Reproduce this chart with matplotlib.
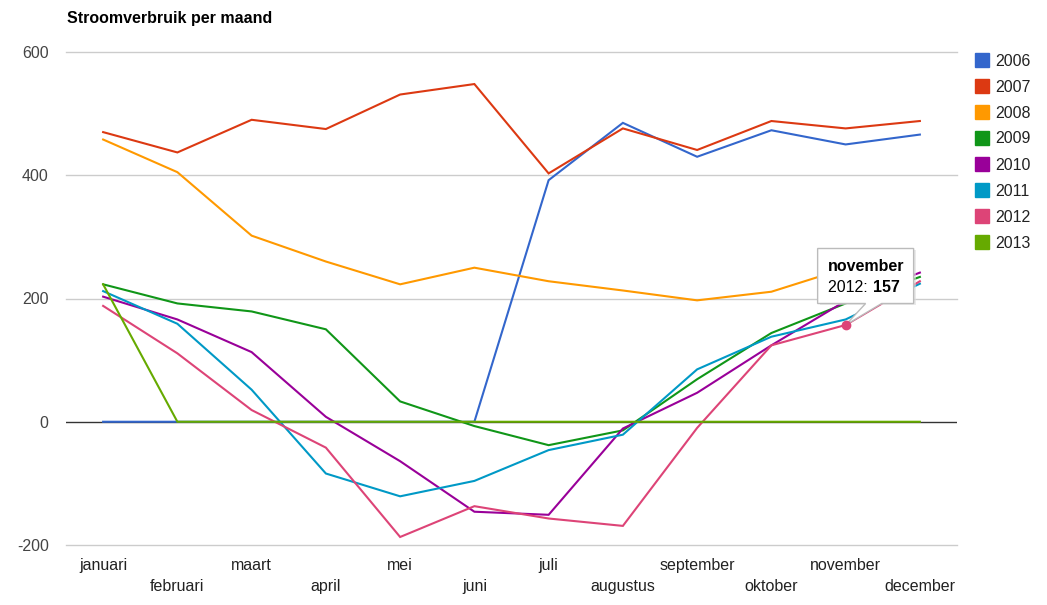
import numpy as np
import matplotlib
matplotlib.use("Agg")
import matplotlib.pyplot as plt
from matplotlib.patches import Rectangle, Polygon
import matplotlib.transforms as mtransforms

plt.rcParams['font.family'] = ['Liberation Sans', 'DejaVu Sans']

months = ['januari', 'februari', 'maart', 'april', 'mei', 'juni', 'juli',
          'augustus', 'september', 'oktober', 'november', 'december']
years = ['2006', '2007', '2008', '2009', '2010', '2011', '2012', '2013']
y2006 = [0, 0, 0, 0, 0, 0, 392, 485, 430, 473, 450, 466]
y2007 = [470, 437, 490, 475, 531, 548, 403, 476, 441, 488, 476, 488]
y2008 = [458, 405, 302, 260, 223, 250, 228, 213, 197, 211, 249, np.nan]
y2009 = [223, 192, 179, 150, 33, -7, -38, -14, 69, 144, 192, 235]
y2010 = [203, 166, 113, 8, -64, -146, -151, -11, 47, 124, 196, 242]
y2011 = [212, 159, 52, -84, -121, -96, -46, -21, 85, 138, 166, 224]
y2012 = [188, 111, 19, -42, -187, -137, -157, -169, -10, 124, 157, 228]
y2013 = [223, 0, 0, 0, 0, 0, 0, 0, 0, 0, 0, 0]
series = [y2006, y2007, y2008, y2009, y2010, y2011, y2012, y2013]
colors = ['#3366cc', '#dc3912', '#ff9900', '#109618', '#990099', '#0099c6', '#dd4477', '#66aa00']
yticks = [-200, 0, 200, 400, 600]

W, H = 1047, 605
fig = plt.figure(figsize=(W / 100, H / 100), dpi=100)
ax = fig.add_axes([66 / W, 1 - 545 / H, (957 - 66) / W, (545 - 52) / H])

x = np.arange(len(months))
for s, c in zip(series, colors):
    ax.plot(x, s, color=c, lw=1.5, zorder=3, solid_joinstyle='miter')

ax.set_xlim(-0.5, 11.5)
ax.set_ylim(-200, 600)
ax.set_yticks(yticks)
ax.set_yticklabels([str(v) for v in yticks])
for v in yticks:
    if v != 0:
        ax.axhline(v, color='#cccccc', lw=1, zorder=0, clip_on=False)
ax.axhline(0, color='#333333', lw=1, zorder=1)
for sp in ax.spines.values():
    sp.set_visible(False)
ax.tick_params(axis='y', length=0, pad=12.5, labelsize=11.5, labelcolor='#444444')

ax.set_xticks(x[::2], [months[i] for i in x[::2]])
ax.set_xticks(x[1::2], [months[i] for i in x[1::2]], minor=True)
ax.tick_params(axis='x', which='major', length=0, pad=9.5, labelsize=11.5, labelcolor='#222222')
ax.tick_params(axis='x', which='minor', length=0, pad=24.5, labelsize=11.5, labelcolor='#222222')

fig.text(67 / W, 1 - 18 / H, 'Stroomverbruik per maand', fontsize=11.5,
         fontweight='bold', ha='left', va='center', color='#000000')

# legend
for i, (yr, c) in enumerate(zip(years, colors)):
    yc = 60 + 26 * i
    fig.patches.append(Rectangle((975 / W, 1 - (yc + 7) / H), 14 / W, 14 / H,
                                 transform=fig.transFigure, color=c))
    fig.text(995 / W, 1 - (yc + 1) / H, yr, fontsize=11.5, ha='left', va='center', color='#222222')

# tooltip for 2012 november
pt = (10, y2012[10])
trans = fig.dpi_scale_trans + mtransforms.ScaledTranslation(pt[0], pt[1], ax.transData)
p = lambda px, py: (px / 100, py / 100)
shadow = Polygon([p(-26, 20), p(70, 20), p(70, 75), p(-26, 75)], closed=True,
                 transform=trans, facecolor='#dddddd', edgecolor='none', zorder=5, alpha=0.6)
box = Polygon([p(-28, 21.5), p(20, 21.5), p(0, 0), p(36, 21.5), p(68, 21.5),
               p(68, 76.5), p(-28, 76.5)], closed=True, transform=trans,
              facecolor='white', edgecolor='#bbbbbb', lw=1, zorder=6)
ax.add_patch(shadow)
ax.add_patch(box)
ax.plot([pt[0]], [pt[1]], 'o', color='#dd4477', ms=6, zorder=7)
ax.annotate('november', xy=pt, xytext=(-18, 58), textcoords='offset pixels',
            fontsize=11.5, fontweight='bold', ha='left', va='center', zorder=8)
ax.annotate('2012: ', xy=pt, xytext=(-18, 37), textcoords='offset pixels',
            fontsize=11.5, ha='left', va='center', zorder=8)
ax.annotate(str(y2012[10]), xy=pt, xytext=(27, 37), textcoords='offset pixels',
            fontsize=11.5, fontweight='bold', ha='left', va='center', zorder=8)

fig.savefig('out.png', dpi=100)
